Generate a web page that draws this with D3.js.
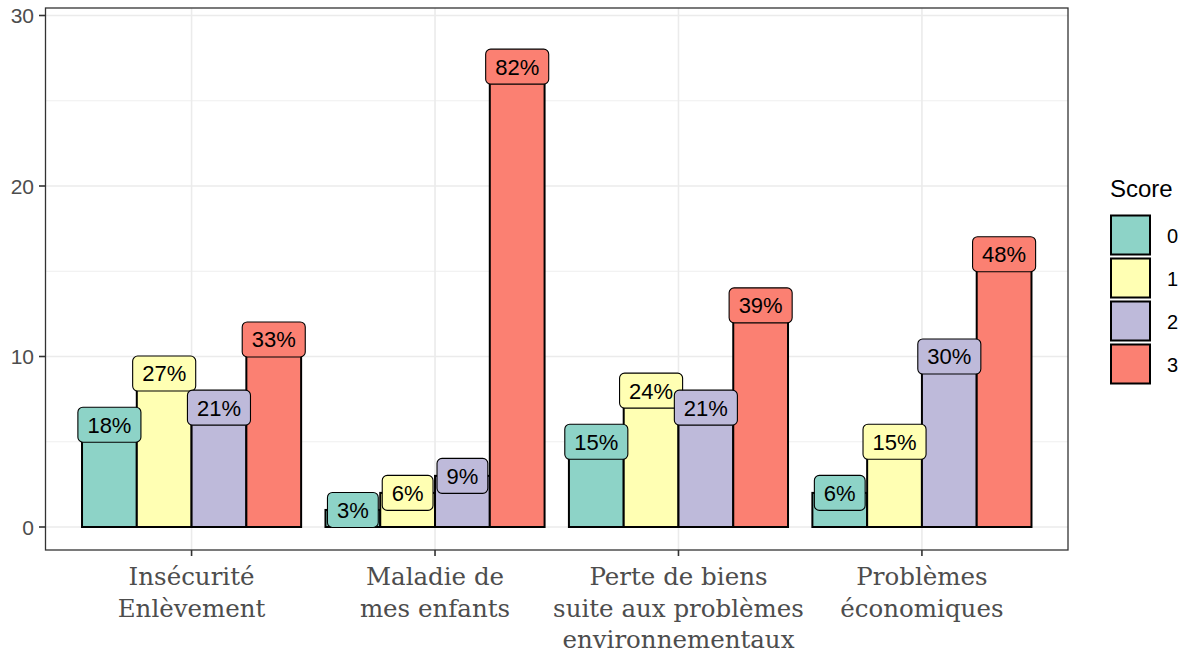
<!DOCTYPE html>
<html><head><meta charset="utf-8">
<script src="https://cdn.jsdelivr.net/npm/d3@7"></script>
<style>html,body{margin:0;padding:0;background:#fff;}</style>
</head><body>
<svg id="chart" width="1190" height="658"></svg>
<script>
const categories = [["Insécurité","Enlèvement"],["Maladie de","mes enfants"],["Perte de biens","suite aux problèmes","environnementaux"],["Problèmes","économiques"]];
const scores = ["0","1","2","3"];
const colors = ["#8DD3C7","#FFFFB3","#BEBADA","#FB8072"];
const score0 = [6,1,5,2];
const score1 = [9,2,8,5];
const score2 = [7,3,7,10];
const score3 = [11,27,13,16];
const labels0 = ["18%","3%","15%","6%"];
const labels1 = ["27%","6%","24%","15%"];
const labels2 = ["21%","9%","21%","30%"];
const labels3 = ["33%","82%","39%","48%"];
const yTicks = [0,10,20,30];
const yMinor = [5,15,25];

const series = [score0,score1,score2,score3];
const labs = [labels0,labels1,labels2,labels3];
const svg = d3.select("#chart");
const panel = {l:45.5, r:1068, t:8, b:550};

const xp = d3.scalePoint().domain(d3.range(categories.length)).range([panel.l, panel.r]).padding(0.6);
const step = xp.step();
const xs = d3.scaleBand().domain(scores).range([-0.45*step, 0.45*step]).padding(0);
const y = d3.scaleLinear().domain([0,30]).range([527,15.5]);

const g = svg.append("g");
g.append("rect").attr("x",panel.l).attr("y",panel.t).attr("width",panel.r-panel.l).attr("height",panel.b-panel.t).attr("fill","#fff");
g.selectAll(".minor").data(yMinor).join("line").attr("x1",panel.l).attr("x2",panel.r)
  .attr("y1",d=>y(d)).attr("y2",d=>y(d)).attr("stroke","#EBEBEB").attr("stroke-width",0.8);
g.selectAll(".major").data(yTicks).join("line").attr("x1",panel.l).attr("x2",panel.r)
  .attr("y1",d=>y(d)).attr("y2",d=>y(d)).attr("stroke","#EBEBEB").attr("stroke-width",1.6);
g.selectAll(".vmajor").data(d3.range(categories.length)).join("line").attr("y1",panel.t).attr("y2",panel.b)
  .attr("x1",d=>xp(d)).attr("x2",d=>xp(d)).attr("stroke","#EBEBEB").attr("stroke-width",1.6);

const barData = [];
series.forEach((s,si)=>s.forEach((v,ci)=>barData.push({si,ci,v,lab:labs[si][ci]})));
g.selectAll(".bar").data(barData).join("rect")
  .attr("x",d=>xp(d.ci)+xs(scores[d.si])).attr("width",xs.bandwidth())
  .attr("y",d=>y(d.v)).attr("height",d=>y(0)-y(d.v))
  .attr("fill",d=>colors[d.si]).attr("stroke","#000").attr("stroke-width",2);

const lg = g.selectAll(".lab").data(barData).join("g")
  .attr("transform",d=>`translate(${xp(d.ci)+xs(scores[d.si])+xs.bandwidth()/2},${y(d.v)})`);
lg.append("text").text(d=>d.lab).attr("text-anchor","middle").attr("dy","0.36em")
  .attr("font-family","Liberation Sans, Arial, sans-serif").attr("font-size",22).attr("fill","#000");
lg.each(function(d){
  const t = d3.select(this).select("text");
  const w = t.node().getComputedTextLength();
  d3.select(this).insert("rect","text").attr("x",-w/2-9.5).attr("y",-17.5).attr("width",w+19).attr("height",35)
    .attr("rx",5).attr("ry",5).attr("fill",colors[d.si]).attr("stroke","#000").attr("stroke-width",1.1);
});

svg.append("rect").attr("x",panel.l).attr("y",panel.t).attr("width",panel.r-panel.l).attr("height",panel.b-panel.t)
  .attr("fill","none").attr("stroke","#333").attr("stroke-width",1.3);

svg.selectAll(".ytick").data(yTicks).join("line").attr("x1",39).attr("x2",panel.l)
  .attr("y1",d=>y(d)).attr("y2",d=>y(d)).attr("stroke","#333").attr("stroke-width",1.6);
svg.selectAll(".ylab").data(yTicks).join("text").attr("x",34).attr("y",d=>y(d)).attr("dy","0.36em")
  .attr("text-anchor","end").attr("font-family","Liberation Sans, Arial, sans-serif").attr("font-size",21)
  .attr("fill","#4D4D4D").text(d=>d);

svg.selectAll(".xtick").data(d3.range(categories.length)).join("line").attr("x1",d=>xp(d)).attr("x2",d=>xp(d))
  .attr("y1",panel.b).attr("y2",panel.b+6).attr("stroke","#333").attr("stroke-width",1.6);
svg.selectAll(".xlab").data(categories).join("text")
  .attr("x",(d,i)=>xp(i)).attr("y",585).attr("text-anchor","middle")
  .attr("font-family","DejaVu Serif, serif").attr("font-size",24.5).attr("fill","#4D4D4D")
  .each(function(d,i){
    d3.select(this).selectAll("tspan").data(d).join("tspan").attr("x",xp(i)).attr("dy",(t,j)=>j===0?0:31.5).text(t=>t);
  });

svg.append("text").attr("x",1110).attr("y",197).attr("font-family","Liberation Sans, Arial, sans-serif")
  .attr("font-size",24).attr("fill","#000").text("Score");
const leg = svg.selectAll(".leg").data(scores).join("g").attr("transform",(d,i)=>`translate(1111,${215.5+i*43})`);
leg.append("rect").attr("width",39).attr("height",39).attr("fill",(d,i)=>colors[i]).attr("stroke","#000").attr("stroke-width",2);
leg.append("text").attr("x",56).attr("y",20).attr("dy","0.36em").attr("font-family","Liberation Sans, Arial, sans-serif")
  .attr("font-size",20).attr("fill","#000").text(d=>d);
</script>
</body></html>
